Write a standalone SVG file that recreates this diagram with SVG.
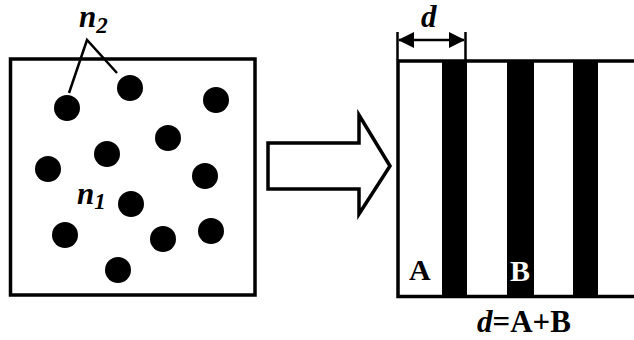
<svg xmlns="http://www.w3.org/2000/svg" width="634" height="340" viewBox="0 0 634 340">
<style>
.ln{stroke:#000;fill:none;stroke-width:3.5}
.thin{stroke:#000;fill:none;stroke-width:2.5}
.dot{fill:#000}
text{font-family:'Liberation Serif','Times New Roman',serif;font-weight:bold;fill:#000}
.it{font-style:italic}
</style>
<defs>
<marker id="ah" viewBox="0 0 16 16" refX="15" refY="8" markerWidth="16" markerHeight="16" markerUnits="userSpaceOnUse" orient="auto-start-reverse">
<path d="M0,0 L16,8 L0,16 Z" fill="#000"/>
</marker>
</defs>
<rect width="634" height="340" fill="#fff"/>
<g id="sample">
<rect class="ln" x="10.5" y="59" width="244.5" height="236"/>
<circle class="dot" cx="67" cy="108" r="13"/>
<circle class="dot" cx="130" cy="88" r="13"/>
<circle class="dot" cx="216" cy="100" r="13"/>
<circle class="dot" cx="168" cy="138" r="13"/>
<circle class="dot" cx="107" cy="154" r="13"/>
<circle class="dot" cx="48" cy="169" r="13"/>
<circle class="dot" cx="205" cy="176" r="13"/>
<circle class="dot" cx="131" cy="204" r="13"/>
<circle class="dot" cx="65" cy="235" r="13"/>
<circle class="dot" cx="163" cy="239" r="13"/>
<circle class="dot" cx="211" cy="231" r="13"/>
<circle class="dot" cx="118" cy="270" r="13"/>
<text class="it" x="77" y="204" font-size="31">n<tspan font-size="23" dy="5">1</tspan></text>
</g>
<g id="n2label">
<text class="it" x="79" y="27" font-size="31">n<tspan font-size="23" dy="6">2</tspan></text>
</g>
<g id="grating">
<rect x="442" y="61" width="25" height="235" fill="#000"/>
<rect x="507" y="61" width="27" height="235" fill="#000"/>
<rect x="573" y="61" width="25" height="235" fill="#000"/>
<path class="ln" d="M634,61 H398 V296.5 H634"/>
<text x="409" y="280" font-size="30">A</text>
<text x="510" y="281" font-size="30" style="fill:#fff">B</text>
</g>
<g id="formula">
<text x="477" y="332" font-size="31"><tspan class="it">d</tspan>=A+B</text>
</g>
<g id="dimension">
<text class="it" x="421" y="27" font-size="31">d</text>
</g>
<g id="connectors">
<path class="thin" d="M69,93 L87,40 L117,73"/>
<polygon class="ln" points="268,143 359,143 359,115 390,166 359,214 359,189 268,189" stroke-linejoin="miter"/>
<path class="thin" d="M397.5,32 V60 M465.5,32 V60"/>
<line class="thin" x1="399" y1="40" x2="464" y2="40" marker-start="url(#ah)" marker-end="url(#ah)"/>
</g>
</svg>
